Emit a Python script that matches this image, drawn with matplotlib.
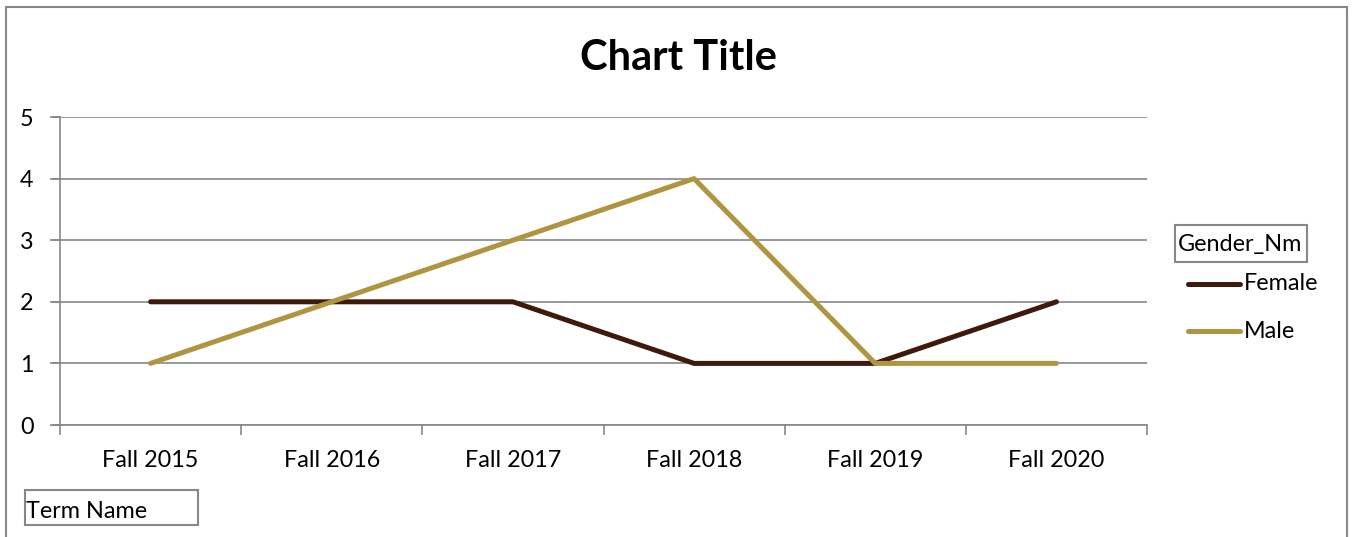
import matplotlib.pyplot as plt
from matplotlib.patches import Rectangle
from matplotlib.lines import Line2D

terms = ['Fall 2015', 'Fall 2016', 'Fall 2017', 'Fall 2018', 'Fall 2019', 'Fall 2020']
female = [2, 2, 2, 1, 1, 2]
male = [1, 2, 3, 4, 1, 1]
series_names = ['Female', 'Male']
colors = ['#3f1a0c', '#b09540']

plt.rcParams['font.family'] = ['Lato', 'DejaVu Sans']

W, H = 1353, 537
fig = plt.figure(figsize=(W / 100, H / 100), dpi=100)

def px(x0, y0, x1, y1):
    # pixel box (top-left origin) -> figure fraction
    return [x0 / W, 1 - y1 / H, (x1 - x0) / W, (y1 - y0) / H]

grey = '#878787'
fs = 16.8
lw = 3.6

# outer chart frame
fig.patches.append(Rectangle((6 / W, -0.01), (1347 - 6) / W, 1 - 7 / H + 0.01,
                             transform=fig.transFigure, fill=False,
                             edgecolor=grey, linewidth=1.5))

ax = fig.add_axes(px(60, 117, 1147, 425))
x = [i + 0.5 for i in range(len(terms))]
ax.plot(x, female, color=colors[0], linewidth=lw, solid_capstyle='round', zorder=3)
ax.plot(x, male, color=colors[1], linewidth=lw, solid_capstyle='round', zorder=4)

ax.set_xlim(0, len(terms))
ax.set_ylim(0, 5)
ax.set_yticks(range(6))
ax.set_xticks(range(len(terms) + 1))
ax.set_xticklabels([])
ax.set_xticks(x, minor=True)
ax.set_xticklabels(terms, minor=True)
ax.tick_params(axis='x', which='minor', length=0, pad=18, labelsize=fs)
ax.tick_params(axis='x', which='major', length=7, color=grey, width=1.2)
ax.tick_params(axis='y', length=7, color=grey, width=1.2, labelsize=fs, pad=12)
ax.grid(axis='y', color=grey, linewidth=1.2)
ax.set_axisbelow(True)
for s in ['top', 'right']:
    ax.spines[s].set_visible(False)
for s in ['left', 'bottom']:
    ax.spines[s].set_color(grey)
    ax.spines[s].set_linewidth(1.2)
# extend gridlines left to the tick marks
for yv in range(6):
    ax.plot([-7 / 181, 0], [yv, yv], color=grey, linewidth=1.2, clip_on=False)

fig.text(678 / W, 1 - 58 / H, 'Chart Title', ha='center', va='center',
         fontsize=30, fontweight='bold')

# legend
fig.patches.append(Rectangle((1175 / W, 1 - 262 / H), 132 / W, 37 / H,
                             transform=fig.transFigure, fill=False,
                             edgecolor=grey, linewidth=1.5))
fig.text(1178 / W, 1 - 245 / H, 'Gender_Nm', ha='left', va='center', fontsize=fs)
for name, c, yy in zip(series_names, colors, [284, 331]):
    fig.add_artist(Line2D([1188 / W, 1240 / W], [1 - yy / H, 1 - yy / H],
                          color=c, linewidth=lw, solid_capstyle='round'))
    fig.text(1244 / W, 1 - yy / H, name, ha='left', va='center', fontsize=fs)

# axis field button
fig.patches.append(Rectangle((25 / W, 1 - 525 / H), 173 / W, 35 / H,
                             transform=fig.transFigure, fill=False,
                             edgecolor=grey, linewidth=1.5))
fig.text(26 / W, 1 - 512 / H, 'Term Name', ha='left', va='center', fontsize=fs)

fig.savefig('out.png', dpi=100)
